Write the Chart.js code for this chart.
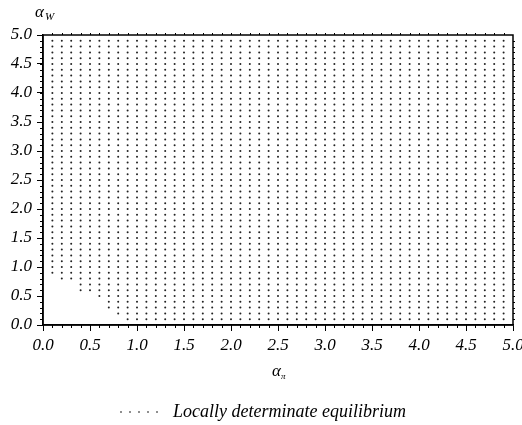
<!DOCTYPE html>
<html lang="en">
<head>
    <meta charset="UTF-8">
    <title>Locally determinate equilibrium</title>
    <script src="https://cdn.jsdelivr.net/npm/chart.js"></script>
    <style>
        html, body { margin: 0; padding: 0; background: #fff; }
        #chartContainer { width: 522px; height: 425px; }
    </style>
</head>
<body>
    <div id="chartContainer">
        <canvas id="detChart" width="522" height="425"></canvas>
    </div>

    <script>
        // alpha_pi and alpha_W values on the grid (step 0.1)
        const gridPi = [0.1, 0.2, 0.3, 0.4, 0.5, 0.6, 0.7, 0.8, 0.9, 1.0,
                        1.1, 1.2, 1.3, 1.4, 1.5, 1.6, 1.7, 1.8, 1.9, 2.0,
                        2.1, 2.2, 2.3, 2.4, 2.5, 2.6, 2.7, 2.8, 2.9, 3.0,
                        3.1, 3.2, 3.3, 3.4, 3.5, 3.6, 3.7, 3.8, 3.9, 4.0,
                        4.1, 4.2, 4.3, 4.4, 4.5, 4.6, 4.7, 4.8, 4.9];
        const gridW = [0.1, 0.2, 0.3, 0.4, 0.5, 0.6, 0.7, 0.8, 0.9, 1.0,
                       1.1, 1.2, 1.3, 1.4, 1.5, 1.6, 1.7, 1.8, 1.9, 2.0,
                       2.1, 2.2, 2.3, 2.4, 2.5, 2.6, 2.7, 2.8, 2.9, 3.0,
                       3.1, 3.2, 3.3, 3.4, 3.5, 3.6, 3.7, 3.8, 3.9, 4.0,
                       4.1, 4.2, 4.3, 4.4, 4.5, 4.6, 4.7, 4.8, 4.9];

        // lower-left corner: first determinate alpha_pi for each low alpha_W row
        const cornerW       = [0.1, 0.2, 0.3, 0.4, 0.5, 0.6, 0.7, 0.8];
        const cornerPiStart = [0.9, 0.8, 0.7, 0.7, 0.6, 0.4, 0.4, 0.2];

        const tickValues = [0, 0.5, 1, 1.5, 2, 2.5, 3, 3.5, 4, 4.5, 5];
        const tickLabels = ['0.0', '0.5', '1.0', '1.5', '2.0', '2.5', '3.0', '3.5', '4.0', '4.5', '5.0'];

        const legendLabel = 'Locally determinate equilibrium';

        // build the determinate points
        const points = [];
        gridW.forEach(w => {
            const idx = cornerW.findIndex(c => Math.abs(c - w) < 1e-9);
            const start = idx >= 0 ? cornerPiStart[idx] : gridPi[0];
            gridPi.forEach(p => {
                if (p >= start - 1e-9) points.push({ x: p, y: w });
            });
        });

        const serif = '"Liberation Serif", "Times New Roman", serif';

        const labelFor = (val) => {
            const i = tickValues.findIndex(t => Math.abs(t - val) < 1e-9);
            return i >= 0 ? tickLabels[i] : '';
        };

        // frame, minor ticks, axis titles and legend
        const framePlugin = {
            id: 'frame',
            afterDraw(chart) {
                const { ctx, chartArea: a, scales: { x, y } } = chart;
                ctx.save();
                ctx.strokeStyle = '#000';
                ctx.lineWidth = 1.5;
                ctx.strokeRect(a.left, a.top, a.right - a.left, a.bottom - a.top);

                ctx.lineWidth = 1;
                ctx.beginPath();
                gridPi.forEach(v => {
                    const px = Math.round(x.getPixelForValue(v)) + 0.5;
                    ctx.moveTo(px, a.bottom); ctx.lineTo(px, a.bottom + 3);
                    ctx.moveTo(px, a.top); ctx.lineTo(px, a.top - 2);
                });
                gridW.forEach(v => {
                    const py = Math.round(y.getPixelForValue(v)) + 0.5;
                    ctx.moveTo(a.left, py); ctx.lineTo(a.left - 3, py);
                    ctx.moveTo(a.right, py); ctx.lineTo(a.right + 2, py);
                });
                ctx.stroke();

                // axis titles
                ctx.fillStyle = '#000';
                ctx.textBaseline = 'alphabetic';
                ctx.textAlign = 'left';
                const cx = (a.left + a.right) / 2;
                ctx.font = 'italic 17px ' + serif;
                ctx.fillText('α', cx - 6, 376);
                ctx.font = 'italic 9px ' + serif;
                ctx.fillText('π', cx + 3, 379);

                ctx.font = 'italic 17px ' + serif;
                ctx.fillText('α', a.left - 8, 17);
                ctx.font = 'italic 11px ' + serif;
                ctx.fillText('W', a.left + 2, 20);

                // legend
                const ly = 412;
                for (let i = 0; i < 5; i++) {
                    ctx.beginPath();
                    ctx.arc(121 + i * 9, ly, 0.8, 0, Math.PI * 2);
                    ctx.fill();
                }
                ctx.font = 'italic 18px ' + serif;
                ctx.textBaseline = 'middle';
                ctx.fillText(legendLabel, 173, ly);
                ctx.restore();
            }
        };

        const ctx = document.getElementById('detChart').getContext('2d');
        const detChart = new Chart(ctx, {
            type: 'scatter',
            data: {
                datasets: [{
                    label: legendLabel,
                    data: points,
                    pointRadius: 1,
                    pointHoverRadius: 1,
                    pointBorderWidth: 0,
                    backgroundColor: '#222'
                }]
            },
            options: {
                responsive: false,
                animation: false,
                devicePixelRatio: 1,
                layout: { padding: { top: 35, right: 9, left: 0, bottom: 0 } },
                plugins: {
                    legend: { display: false },
                    tooltip: { enabled: false }
                },
                scales: {
                    x: {
                        type: 'linear',
                        min: 0,
                        max: 5,
                        afterBuildTicks: s => { s.ticks = tickValues.map(v => ({ value: v })); },
                        afterFit: s => { s.height = 100; s.paddingLeft = 0; s.paddingRight = 0; },
                        ticks: {
                            callback: labelFor,
                            maxRotation: 0,
                            autoSkip: false,
                            padding: 4,
                            color: '#000',
                            font: { family: serif, style: 'italic', size: 17 }
                        },
                        grid: { drawOnChartArea: false, drawTicks: true, tickLength: 6, color: '#000', lineWidth: 1 },
                        border: { display: true, color: '#000', width: 1.5 }
                    },
                    y: {
                        type: 'linear',
                        min: 0,
                        max: 5,
                        afterBuildTicks: s => { s.ticks = tickValues.map(v => ({ value: v })); },
                        afterFit: s => { s.width = 43; s.paddingTop = 0; s.paddingBottom = 0; },
                        ticks: {
                            callback: labelFor,
                            autoSkip: false,
                            padding: 5,
                            color: '#000',
                            font: { family: serif, style: 'italic', size: 17 }
                        },
                        grid: { drawOnChartArea: false, drawTicks: true, tickLength: 6, color: '#000', lineWidth: 1 },
                        border: { display: true, color: '#000', width: 1.5 }
                    }
                }
            },
            plugins: [framePlugin]
        });
    </script>
</body>
</html>
